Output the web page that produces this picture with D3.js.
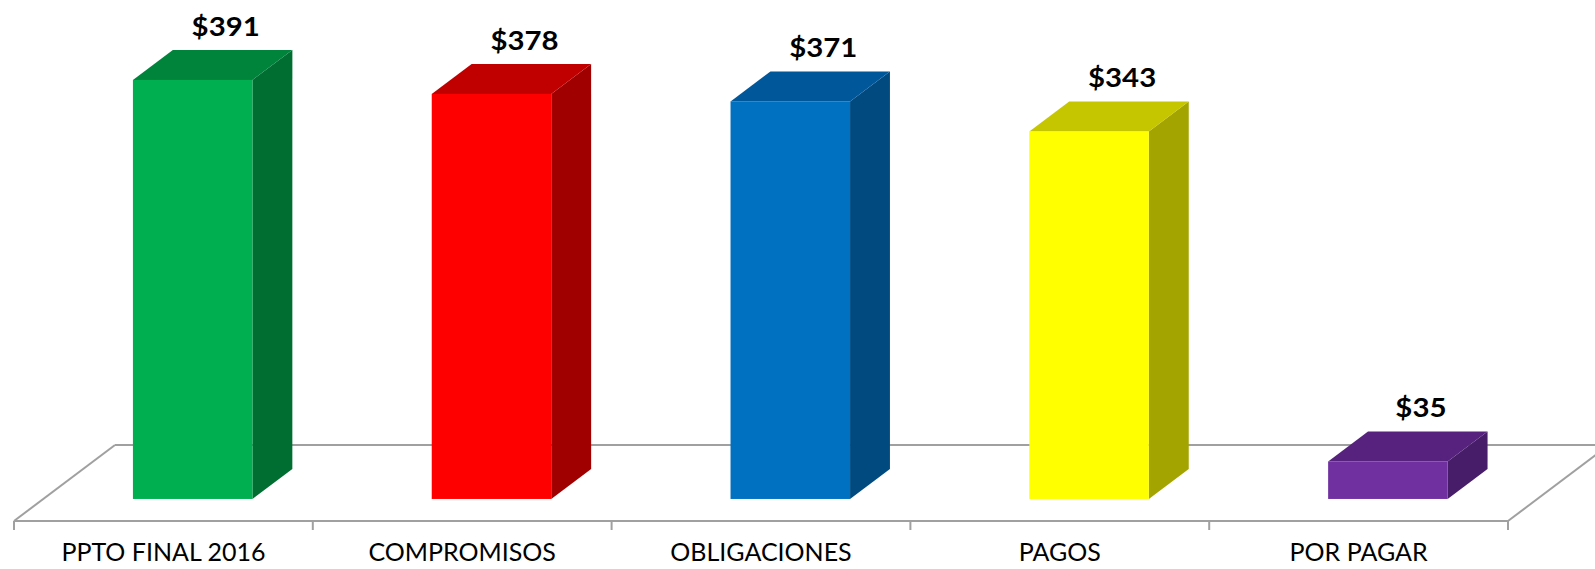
<!DOCTYPE html>
<html>
<head>
<meta charset="utf-8">
<script src="https://cdn.jsdelivr.net/npm/d3@7"></script>
<style>
  body { margin: 0; background: #ffffff; }
  svg { display: block; }
  .etiqueta { font-family: Lato, "Open Sans", sans-serif; fill: #000; }
</style>
</head>
<body>
<div id="grafica"></div>
<script>
// Datos de la grafica
var categorias = ["PPTO FINAL 2016", "COMPROMISOS", "OBLIGACIONES", "PAGOS", "POR PAGAR"];
var valores = [391, 378, 371, 343, 35];
var etiquetas = ["$391", "$378", "$371", "$343", "$35"];
var colores = ["#00B050", "#FF0000", "#0070C0", "#FFFF00", "#7030A0"];
var coloresArriba = ["#00843C", "#C00000", "#00579A", "#C6C600", "#56227E"];
var coloresLado = ["#006E31", "#A00000", "#004A80", "#A4A400", "#471D69"];

function dibujarGrafica() {
    const ancho = 1595,
          altura = 569;

    //Piso en perspectiva: linea frontal y profundidad.
    const pisoY = 521,
          profX = 101,
          profY = -76,
          frente = 0.29,   // fraccion de profundidad donde empieza la barra
          fondo = 0.685;   // fraccion donde termina

    var svg = d3.select("#grafica").append("svg")
                .attr("width", ancho)
                .attr("height", altura);

    //Escalas
    var x = d3.scaleBand()
              .domain(categorias)
              .range([14, 1508])
              .paddingInner(0.6)
              .paddingOuter(0.3);

    var xCat = d3.scaleBand()
                 .domain(categorias)
                 .range([14, 1508])
                 .padding(0);

    var baseY = pisoY + profY * frente;
    var y = d3.scaleLinear()
              .domain([0, 400])
              .range([baseY, baseY - 400 * 1.0716]);

    var dx0 = profX * frente,
        dx = profX * (fondo - frente),
        dy = profY * (fondo - frente);

    //Piso (contorno gris)
    var piso = svg.append("g")
                  .attr("fill", "none")
                  .attr("stroke", "#a0a0a0")
                  .attr("stroke-width", 2);

    var x0 = xCat.range()[0], x1 = xCat.range()[1];
    piso.append("path")
        .attr("d", "M" + (x0 + profX) + "," + (pisoY + profY) + "L" + (x1 + profX + 200) + "," + (pisoY + profY));
    piso.append("path")
        .attr("d", "M" + x0 + "," + pisoY + "L" + (x0 + profX) + "," + (pisoY + profY));
    piso.append("path")
        .attr("d", "M" + x1 + "," + pisoY + "L" + (x1 + profX) + "," + (pisoY + profY));
    piso.append("path")
        .attr("d", "M" + x0 + "," + pisoY + "L" + x1 + "," + pisoY);

    //Marcas del eje
    var marcas = categorias.map(function (c) { return xCat(c); }).concat([x1]);
    piso.selectAll(".marca")
        .data(marcas)
        .enter().append("path")
        .attr("class", "marca")
        .attr("d", function (d) { return "M" + d + "," + pisoY + "V" + (pisoY + 9); });

    //Barras 3D
    var barras = svg.selectAll(".barra")
                    .data(categorias)
                    .enter().append("g")
                    .attr("class", "barra");

    function izq(i) { return x(categorias[i]) + dx0; }

    //Lado derecho
    barras.append("path")
          .attr("fill", function (d, i) { return coloresLado[i]; })
          .attr("d", function (d, i) {
              var a = izq(i) + x.bandwidth(), t = y(valores[i]), b = y(0);
              return "M" + a + "," + t + "L" + (a + dx) + "," + (t + dy) +
                     "L" + (a + dx) + "," + (b + dy) + "L" + a + "," + b + "Z";
          });

    //Cara superior
    barras.append("path")
          .attr("fill", function (d, i) { return coloresArriba[i]; })
          .attr("d", function (d, i) {
              var a = izq(i), w = x.bandwidth(), t = y(valores[i]);
              return "M" + a + "," + t + "L" + (a + dx) + "," + (t + dy) +
                     "L" + (a + w + dx) + "," + (t + dy) + "L" + (a + w) + "," + t + "Z";
          });

    //Cara frontal
    barras.append("rect")
          .attr("fill", function (d, i) { return colores[i]; })
          .attr("x", function (d, i) { return izq(i); })
          .attr("y", function (d, i) { return y(valores[i]); })
          .attr("width", x.bandwidth())
          .attr("height", function (d, i) { return y(0) - y(valores[i]); });

    //Etiquetas de valor
    barras.append("text")
          .attr("class", "etiqueta")
          .attr("text-anchor", "middle")
          .attr("font-size", 26)
          .attr("font-weight", "bold")
          .attr("transform", function (d, i) {
              var cx = izq(i) + x.bandwidth() / 2 + 33;
              return "translate(" + cx + "," + (y(valores[i]) - 44) + ") scale(1.13,1)";
          })
          .text(function (d, i) { return etiquetas[i]; });

    //Etiquetas de categoria (un poco arriba para no cortarse en el borde)
    svg.selectAll(".categoria")
       .data(categorias)
       .enter().append("text")
       .attr("class", "etiqueta categoria")
       .attr("text-anchor", "middle")
       .attr("font-size", 25)
       .attr("x", function (d) { return xCat(d) + xCat.bandwidth() / 2; })
       .attr("y", 561)
       .text(function (d) { return d; });
}

dibujarGrafica();
</script>
</body>
</html>
